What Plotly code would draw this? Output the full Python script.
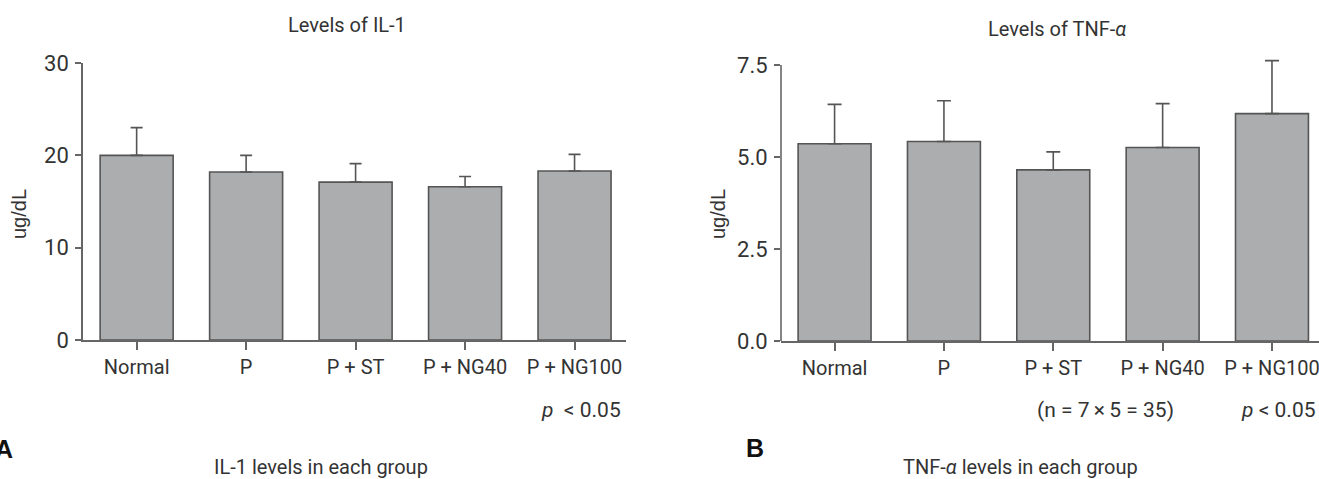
import plotly.graph_objects as go

categories = ["Normal", "P", "P + ST", "P + NG40", "P + NG100"]
il1_mean = [20.0, 18.2, 17.1, 16.6, 18.3]
il1_err = [3.0, 1.8, 2.0, 1.1, 1.8]
tnf_mean = [5.36, 5.42, 4.65, 5.26, 6.18]
tnf_err = [1.07, 1.11, 0.49, 1.19, 1.44]
il1_ticks = [0, 10, 20, 30]
tnf_ticks = [0.0, 2.5, 5.0, 7.5]
tnf_ticklabels = ["0.0", "2.5", "5.0", "7.5"]

W, H = 1319, 479
NARROW = "Roboto, DejaVu Sans Condensed, sans-serif"
SANS = "Liberation Sans, Arial, sans-serif"
TXT = "#333333"
AX = "#666666"
BAR_FILL = "#abadae"
BAR_LINE = "#555555"

def py(y):
    return 1 - y / H

def px(x):
    return x / W

fig = go.Figure()

def add_bars(mean, err, xa, ya, capw):
    fig.add_trace(go.Bar(
        x=categories, y=mean, xaxis=xa, yaxis=ya, width=0.667,
        marker=dict(color=BAR_FILL, line=dict(color=BAR_LINE, width=1.6)),
        error_y=dict(type="data", array=err, arrayminus=[0] * len(err),
                     symmetric=False, color=BAR_LINE, thickness=1.6, width=capw),
        showlegend=False, hoverinfo="skip",
    ))

add_bars(il1_mean, il1_err, "x", "y", 6)
add_bars(tnf_mean, tnf_err, "x2", "y2", 7)

common_x = dict(showline=True, linecolor=AX, linewidth=1.6, ticks="outside",
                ticklen=8, tickwidth=1.6, tickcolor=AX, showgrid=False,
                zeroline=False, automargin=False,
                tickfont=dict(family=NARROW, size=20, color=TXT))
common_y = dict(linecolor=AX, linewidth=1.6, ticks="outside",
                ticklen=6, tickwidth=1.6, tickcolor=AX, showgrid=False,
                zeroline=False, automargin=False,
                tickfont=dict(family=NARROW, size=22, color=TXT),
                ticklabelstandoff=2)

# right panel: leave head-room above 7.5 so the tallest error cap is not clipped
y2_top = 7.7
y2_bottom_px, y2_tick_top_px = 341, 65
y2_dom_top_px = y2_bottom_px - (y2_top / 7.5) * (y2_bottom_px - y2_tick_top_px)

fig.update_layout(
    width=W, height=H,
    margin=dict(l=0, r=0, t=0, b=0, autoexpand=False),
    paper_bgcolor="white", plot_bgcolor="white",
    xaxis=dict(domain=[px(83), px(626)], range=[-0.49, 4.47], anchor="y", **common_x),
    yaxis=dict(domain=[py(340), py(63)], range=[0, 30], tickvals=il1_ticks,
               anchor="x", showline=True, **common_y),
    xaxis2=dict(domain=[px(781), 1.0], range=[-0.49, 4.43], anchor="y2", **common_x),
    yaxis2=dict(domain=[py(y2_bottom_px), py(y2_dom_top_px)], range=[0, y2_top],
                tickvals=tnf_ticks, ticktext=tnf_ticklabels, anchor="x2",
                showline=False, **common_y),
)

# y-axis line of the right panel, from 0 to the top tick only
fig.add_shape(type="line", xref="x2 domain", yref="y2", x0=0, x1=0,
              y0=tnf_ticks[0], y1=tnf_ticks[-1],
              line=dict(color=AX, width=1.6), layer="above")

ann = []
def A(text, x, y, size=20, family=NARROW, xanchor="center", angle=0, color=TXT):
    ann.append(dict(text=text, x=px(x), y=py(y), xref="paper", yref="paper",
                    showarrow=False, xanchor=xanchor, yanchor="middle",
                    textangle=angle, font=dict(family=family, size=size, color=color)))

A("Levels of IL-1", 347, 25, size=20)
A("Levels of TNF-<i>α</i>", 1057, 29, size=20)
A("ug/dL", 19, 214, size=20, family=SANS, angle=-90)
A("ug/dL", 718, 214, size=20, family=SANS, angle=-90)
A("<i>p</i>  < 0.05", 623, 410, size=21, xanchor="right")
A("(n = 7\u2009×\u20095 = 35)", 1105, 410, size=21)
A("<i>p</i> < 0.05", 1318, 410, size=21, xanchor="right")
A("<b>A</b>", -7, 449, size=25, family=SANS, xanchor="left", color="#111")
A("<b>B</b>", 744, 448, size=25, family=SANS, xanchor="left", color="#111")
A("IL-1 levels in each group", 321, 467, size=20)
A("TNF-<i>α</i> levels in each group", 1020, 467, size=20)
fig.update_layout(annotations=ann)

fig.write_html("out.html")
